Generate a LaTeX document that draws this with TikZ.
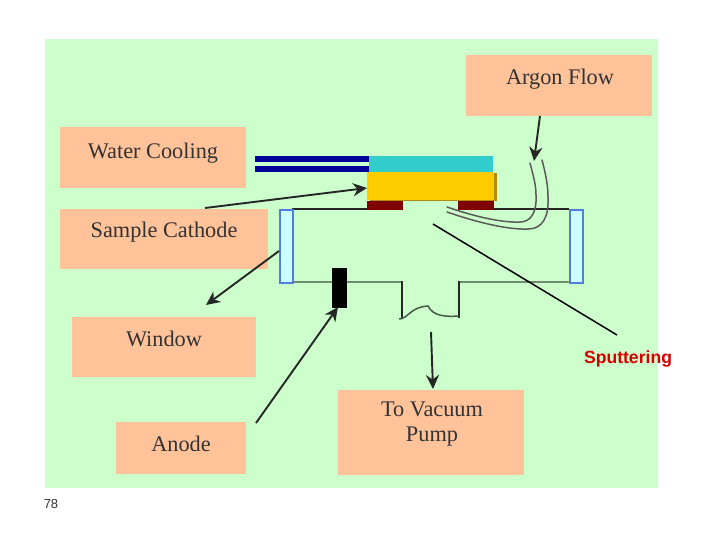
\documentclass[tikz,border=0pt]{standalone}
\usepackage{fontspec}
\setmainfont{Liberation Serif}
\newfontfamily\sansf{Liberation Sans}
\usetikzlibrary{arrows.meta}
\definecolor{bgg}{HTML}{CCFFCC}
\definecolor{boxo}{HTML}{FFC299}
\definecolor{winb}{HTML}{CCFFFF}
\definecolor{winl}{HTML}{4D7FDF}
\definecolor{teal}{HTML}{33CCCC}
\definecolor{gold}{HTML}{FFCC00}
\definecolor{goldd}{HTML}{B08C10}
\definecolor{darkr}{HTML}{800000}
\definecolor{navy2}{HTML}{000099}
\tikzset{
  x=1pt,y=-1pt,
  lab/.style={fill=boxo,draw=none,inner sep=0pt,anchor=north west},
  tx/.style={text=black!80,font=\fontsize{22.3}{24.5}\selectfont,align=center},
  arr/.style={draw=black!85,line width=1.9pt,-{Stealth[length=14pt,width=13pt]}},
  wall/.style={draw=black!85,line width=1.8pt},
  wallg/.style={draw=black!45!bgg,line width=2.2pt},
  win/.style={fill=winb,draw=winl,line width=1.9pt,inner sep=0pt,anchor=north west},
  solid box/.style={inner sep=0pt,anchor=north west,draw=none},
  tube/.style={draw=black!65,line width=1.5pt,line cap=round},
}
\begin{document}
\begin{tikzpicture}
\useasboundingbox (0,0) rectangle (720,540);
\fill[white] (0,0) rectangle (720,540);
\node[solid box,fill=bgg,minimum width=613pt,minimum height=449pt] (bg) at (45,39) {};
\node[lab,minimum width=186pt,minimum height=61pt] (argon) at (466,55) {};
\node[tx] (argont) at (560,79) {Argon Flow};
\node[lab,minimum width=186pt,minimum height=61pt] (water) at (60,127) {};
\node[tx] (watert) at (153,153) {Water Cooling};
\node[lab,minimum width=208pt,minimum height=60pt] (sample) at (60,209) {};
\node[tx] (samplet) at (164,232) {Sample Cathode};
\node[lab,minimum width=184pt,minimum height=60pt] (window) at (72,317) {};
\node[tx] (windowt) at (164,339) {Window};
\node[lab,minimum width=130pt,minimum height=52pt] (anode) at (116,422) {};
\node[tx] (anodet) at (181,444) {Anode};
\node[lab,minimum width=186pt,minimum height=85pt] (pump) at (338,390) {};
\node[tx] (pumpt) at (432,424) {To Vacuum\\Pump};
% chamber walls
\draw[wall] (292,209) -- (368,209);
\draw[wall] (494,209) -- (569,209);
\draw[wallg] (292,282) -- (401,282);
\draw[wallg] (459,282) -- (569,282);
\draw[wall] (402,281) -- (402,318);
\draw[wall] (459,281) -- (459,318);
\draw[draw=black!65!bgg,line width=1.5pt] (399,319) .. controls (408,319) and (410,307) .. (428,306) .. controls (433,316) and (445,317) .. (459,316);
% windows
\node[win,minimum width=13pt,minimum height=73pt] (winl) at (279,209) {};
\node[win,minimum width=13pt,minimum height=73pt] (winr) at (569,209) {};
% cathode
\node[solid box,fill=navy2,minimum width=114pt,minimum height=6pt] (pipeA) at (255,156) {};
\node[solid box,fill=navy2,minimum width=114pt,minimum height=6pt] (pipeB) at (255,166) {};
\node[solid box,fill=teal,minimum width=124pt,minimum height=17pt] (cool) at (369,156) {};
\fill[goldd] (370,173) rectangle (497,201.5);
\node[solid box,fill=gold,minimum width=127pt,minimum height=28pt] (cath) at (367,172) {};
\node[solid box,fill=darkr,minimum width=36pt,minimum height=9pt] (padA) at (367,201) {};
\node[solid box,fill=darkr,minimum width=36pt,minimum height=9pt] (padB) at (458,201) {};
% anode
\node[solid box,fill=black,minimum width=15pt,minimum height=40pt] (anodebar) at (332,268) {};
% gas tube
\draw[tube] (530,163) .. controls (534,178) and (536,186) .. (536,195) .. controls (537,212) and (531,222) .. (520,222) .. controls (500,223) and (470,215) .. (447,207);
\draw[tube] (542,160) .. controls (546,175) and (548,186) .. (548,197) .. controls (549,218) and (542,229) .. (528,229) .. controls (505,230) and (470,220) .. (447,212);
% coordinates
\coordinate (a1) at (540,116);
\coordinate (a2) at (534,161);
\coordinate (s1) at (205,208);
\coordinate (s2) at (367,188);
\coordinate (w1) at (279,251);
\coordinate (w2) at (206,305);
\coordinate (n1) at (256,423);
\coordinate (n2) at (338,307);
\coordinate (p1) at (431,332);
\coordinate (p2) at (433,389);
\coordinate (sp1) at (433,224);
\coordinate (sp2) at (617,335);
\draw[arr] (a1) -- (a2);
\draw[arr] (s1) -- (s2);
\draw[arr] (w1) -- (w2);
\draw[arr] (n1) -- (n2);
\draw[arr] (p1) -- (p2);
\draw[draw=black,line width=1.5pt] (sp1) -- (sp2);
\node[text=red!85!black,font=\sansf\bfseries\fontsize{17.6}{20}\selectfont] (sput) at (628,359) {Sputtering};
\node[text=black!80,font=\sansf\fontsize{13}{15}\selectfont] (num) at (51,504) {78};
\end{tikzpicture}
\end{document}
